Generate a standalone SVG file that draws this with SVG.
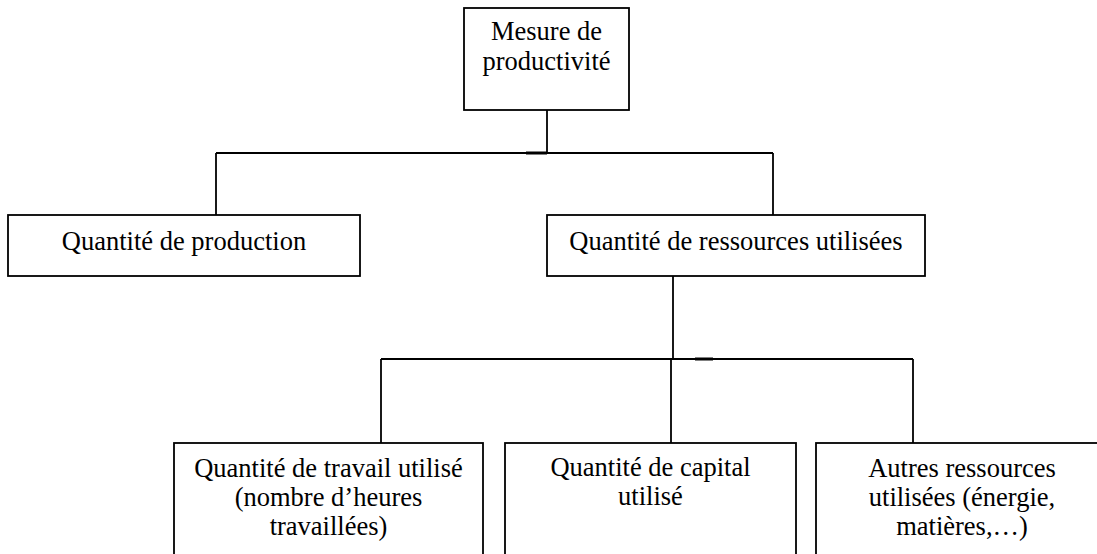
<svg xmlns="http://www.w3.org/2000/svg" width="1097" height="554" viewBox="0 0 1097 554">
  <style>
    .box { fill: #ffffff; stroke: #000000; stroke-width: 1.8; }
    .conn { fill: none; stroke: #000000; stroke-width: 1.8; }
    .tick { fill: none; stroke: #000000; stroke-width: 3; }
    text { font-family: "Liberation Serif", "Times New Roman", serif; font-size: 26.5px; fill: #000000; text-anchor: middle; }
  </style>
  <rect x="0" y="0" width="1097" height="554" fill="#ffffff"/>
  <g id="connectors">
    <line class="conn" x1="547" y1="110" x2="547" y2="153"/>
    <line class="conn" x1="216" y1="153" x2="773" y2="153"/>
    <line class="tick" x1="526" y1="153" x2="547" y2="153"/>
    <line class="conn" x1="216" y1="153" x2="216" y2="215"/>
    <line class="conn" x1="773" y1="153" x2="773" y2="215"/>
    <line class="conn" x1="673" y1="276" x2="673" y2="359"/>
    <line class="conn" x1="381" y1="359" x2="913" y2="359"/>
    <line class="tick" x1="695" y1="359" x2="713" y2="359"/>
    <line class="conn" x1="381" y1="359" x2="381" y2="443"/>
    <line class="conn" x1="671" y1="359" x2="671" y2="443"/>
    <line class="conn" x1="913" y1="359" x2="913" y2="443"/>
  </g>
  <g id="node-mesure">
    <rect class="box" x="464" y="8" width="165" height="102"/>
    <text x="546.5" y="40">Mesure de</text>
    <text x="546.5" y="70">productivité</text>
  </g>
  <g id="node-production">
    <rect class="box" x="8" y="215" width="352" height="61"/>
    <text x="184" y="250">Quantité de production</text>
  </g>
  <g id="node-ressources">
    <rect class="box" x="547" y="215" width="378" height="61"/>
    <text x="736" y="250">Quantité de ressources utilisées</text>
  </g>
  <g id="node-travail">
    <rect class="box" x="174" y="443" width="309" height="120"/>
    <text x="328.5" y="477">Quantité de travail utilisé</text>
    <text x="328.5" y="506">(nombre d’heures</text>
    <text x="328.5" y="535">travaillées)</text>
  </g>
  <g id="node-capital">
    <rect class="box" x="505" y="443" width="291" height="120"/>
    <text x="650.5" y="476">Quantité de capital</text>
    <text x="650.5" y="505">utilisé</text>
  </g>
  <g id="node-autres">
    <rect class="box" x="816" y="443" width="300" height="120"/>
    <text x="962" y="477">Autres ressources</text>
    <text x="962" y="506">utilisées (énergie,</text>
    <text x="962" y="535">matières,…)</text>
  </g>
</svg>
